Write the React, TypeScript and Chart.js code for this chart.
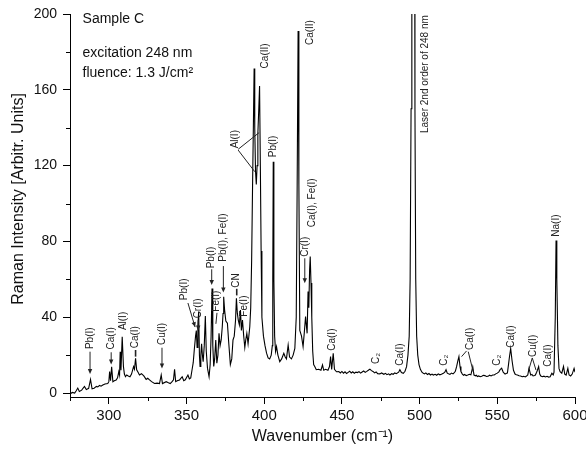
import React, { useEffect, useRef } from 'react';
import { Chart, registerables } from 'chart.js';

Chart.register(...registerables);

// ---- Spectrum data (wavenumber axis label as in the figure, intensity in arbitrary units)
const wavenumbers = [
  275, 276.5, 278, 279, 280, 281, 282.5, 284.3, 285.5, 287, 288.2, 289.2, 290.5, 292, 292.9, 294, 295, 296.1, 297.5, 299.3,
  300, 300.5, 301.1, 301.8, 302.6, 303.5, 304.7, 305.6, 306.4, 306.9, 307.3, 307.8, 308.6, 309.4, 310, 310.7, 311.5, 312.5, 313.6, 314.6,
  315.9, 316.5, 317.2, 317.9, 318.8, 319.7, 321, 322.5, 324, 325, 326.2, 327.5, 329.4, 331, 332.6, 333.7, 334.5, 336.9, 338, 339.5,
  340.7, 341.6, 342.3, 343, 344, 345.5, 347.2, 348.2, 349.2, 350.9, 351.8, 352.7, 353.5, 354.3, 355, 355.8, 356.3, 356.8, 357.3, 357.8,
  358.3, 358.7, 359.2, 359.7, 360.2, 360.7, 361.4, 362.1, 362.7, 363.5, 364.5, 365.2, 365.8, 366.4, 366.9, 367.5, 368.1, 368.8, 369.5, 370.2,
  370.9, 371.6, 372.3, 373, 373.5, 373.9, 374.5, 375.3, 376.3, 377.2, 378.2, 379.1, 379.9, 380.7, 381.5, 382.1, 382.7, 383.3, 384, 384.7,
  385.3, 386, 386.8, 387.5, 388.1, 388.8, 389.6, 390.7, 391.3, 391.9, 392.5, 393, 393.5, 393.9, 394.4, 394.9, 395.4, 395.9, 396.5, 397,
  397.5, 398, 398.5, 399.5, 400.5, 401.5, 402.5, 403.5, 404.5, 405.2, 405.5, 405.8, 406.2, 406.7, 407.3, 407.9, 408.8, 410, 411.2, 412.6,
  413.5, 414.3, 415.4, 416.3, 417.5, 418.6, 419.7, 420.6, 421.2, 421.8, 422.3, 422.9, 424, 425, 425.8, 426.6, 427.6, 428.2, 428.7, 429.2,
  429.6, 430.1, 430.6, 431.2, 431.8, 432.6, 433.5, 435, 436.5, 437.5, 438.3, 439.5, 441, 442, 442.7, 443.4, 444.4, 445.2, 446.5, 448,
  449, 450, 451, 452, 453, 454, 455, 456, 457, 458, 459, 460, 461, 462, 463, 464, 465, 466, 467, 468,
  469, 470, 471, 472, 473, 474.4, 475.5, 477, 478, 479, 480, 480.9, 482, 483, 484, 485, 486.5, 487.3,
  488.3, 489.5, 490.6, 491.6, 492.5, 493.3, 493.9, 494.5, 495, 495.4, 496.5, 497, 497.5, 498.1, 498.8, 499.6, 500.5, 501.5, 502.4, 503.2,
  504, 505, 506, 507, 508, 508.8, 510, 511, 512, 513, 514, 515.3, 516.2, 517, 517.8, 518.6, 519.5, 520.5, 521.5, 522.3,
  523, 523.8, 524.6, 525.3, 526, 526.6, 527.5, 528.3, 529, 530, 531, 532, 533, 534.2, 535, 536, 536.5, 537.2, 538, 539,
  540, 541, 542, 543, 544, 545, 546, 547, 548, 549, 550, 551, 551.8, 552.8, 553.8, 555, 556, 556.5, 557.2, 557.8,
  558.6, 559.5, 560.4, 561.4, 562.2, 563, 564, 565, 566, 567, 568, 568.6, 569.6, 570.4, 571.5, 572.3, 573, 574, 574.5, 575.3,
  575.8, 576.6, 577.3, 578, 579, 580, 581, 582, 583, 584, 585.1, 586, 586.5, 587.3,
  587.8, 588.3, 589, 589.7, 590.4, 591.5, 592.6, 593.4, 594.3, 595.4, 596.2, 597.2, 598.2, 599.4, 600,
];

const intensities = [
  -0.5, 0.3, 0, 1.2, 2.6, 0.8, 1.5, 3.5, 1.8, 2.5, 7.2, 2.2, 2.5, 3.5, 3.2, 4, 3.6, 4.2, 4.8, 5,
  6, 11.3, 6.5, 13.9, 6, 6.5, 6.9, 8, 11.3, 9.5, 21.8, 12, 29.7, 13.9, 10, 8.6, 9.5, 9, 8.6, 10,
  13.9, 12.5, 18.3, 12.3, 11, 9.5, 10.2, 9, 7.2, 7.8, 6.9, 6, 5, 5.2, 5, 9.5, 5, 6, 5.5, 5,
  6, 7, 12.5, 6, 6.5, 6.9, 8.6, 6.5, 7, 9.5, 7.5, 8, 12, 16, 23, 30, 33, 24, 35, 43,
  20, 14, 20, 26, 20, 16.5, 25, 40.6, 22, 13, 8.6, 15, 30, 55.2, 25, 14, 18, 28, 15.7, 20,
  31.5, 25, 28, 35, 42, 50.8, 43.8, 38, 36.8, 26, 15, 18, 28, 30, 38, 50, 42, 38.5, 36, 43.8,
  33, 38.5, 30, 24, 28, 31.5, 26, 35, 45, 70, 110, 140, 171.3, 140, 117, 110, 120, 137, 150, 162,
  120, 75, 40, 30, 25, 21, 18.5, 18, 20, 25, 60, 122, 60, 30, 22, 24.5, 20, 16.5, 18, 21,
  19, 18, 25.3, 19, 18, 20, 23.5, 40, 110, 191, 110, 33, 30, 24.5, 32, 40.3, 31.5, 53.5, 45, 65,
  72, 58, 40, 22, 15, 13.9, 12.3, 12.5, 12, 14.8, 12, 12.5, 12, 14, 19.2, 12.5, 21, 12.5, 11.2, 11.3,
  10.6, 11.4, 10.5, 11.2, 10.3, 10.9, 11.5, 10.6, 11.2, 10.4, 11, 10.8, 11.3, 10.5, 11.1, 11.6, 10.9, 11.4, 12, 12.6,
  11.8, 11.4, 10.6, 11.1, 10.2, 10.1, 10.6, 9.9, 10.4, 9.7, 10.1, 9.5, 10.2, 9.9, 10.6, 10.2, 11, 12.3,
  10.8, 10.4, 11.5, 13.9, 20, 30, 60, 150, 400, 420, 420, 150, 60, 30, 20, 15, 12.5, 11, 10.4, 10.1,
  10.6, 9.8, 10.3, 9.5, 10, 9.5, 9.9, 9.4, 10.1, 9.6, 9.9, 10.4, 11, 12.3, 10.5, 10.1, 9.8, 10.5, 10.1, 10.8,
  11.5, 13.9, 17, 19.2, 14, 11.3, 10, 9.4, 9.8, 9.2, 9.5, 9.9, 9.6, 13.9, 9.5, 9.1, 9.4, 8.7, 9, 8.6,
  8.8, 9.3, 9.2, 8.7, 8.8, 9.4, 9, 9.5, 9.5, 10.1, 10.5, 11.2, 12.3, 13.1, 11, 10, 10.4, 10.5, 15, 19,
  23.5, 17, 12, 10, 9.6, 9.5, 9.1, 9, 8.6, 8.8, 8.5, 8.8, 9.5, 13, 9.5, 9.8, 9, 9.3, 9.5, 11,
  12, 13.9, 10, 9, 8.6, 8.9, 8.5, 8.8, 8.4, 8.6, 10.4, 9.6, 11, 40,
  80.5, 60, 25, 13, 11.3, 10.5, 14, 10, 9.5, 13, 9.5, 9, 10, 13, 11,
];

const xTicks = [300, 350, 400, 450, 500, 550, 600];
const xMinorTicks = [275, 325, 375, 425, 475, 525, 575];
const yTicks = [0, 40, 80, 120, 160, 200];
const yMinorTicks = [20, 60, 100, 140, 180];

const xTitle = 'Wavenumber (cm⁻¹)';
const yTitle = 'Raman Intensity [Arbitr. Units]';
const yTitleCenter = 102.4;

const infoLines = ['Sample C', 'excitation 248 nm', 'fluence: 1.3 J/cm²'];
const infoAnchorX = 283.1;
const infoAnchorY = [195.3, 177.3, 166.8];

// peak assignment labels: wavenumber, intensity where the (vertical) text starts
const peakLabels = [
  { text: 'Pb(I)', x: 287.9, y: 23.2 },
  { text: 'Ca(I)', x: 301.5, y: 23.0 },
  { text: 'Al(I)', x: 309.0, y: 33.2 },
  { text: 'Ca(I)', x: 317.2, y: 23.6 },
  { text: 'Cu(I)', x: 334.3, y: 25.3 },
  { text: 'Pb(I)', x: 348.6, y: 49.0 },
  { text: 'Cr(I)', x: 357.3, y: 39.4 },
  { text: 'Pb(I)', x: 366.2, y: 65.8 },
  { text: 'Fe(I)', x: 369.4, y: 42.9 },
  { text: 'Pb(I), Fe(I)', x: 373.9, y: 69.3 },
  { text: 'CN', x: 382.3, y: 55.5 },
  { text: 'Fe(I)', x: 387.4, y: 40.3 },
  { text: 'Al(I)', x: 381.3, y: 129.1 },
  { text: 'Ca(II)', x: 400.4, y: 171.3 },
  { text: 'Pb(I)', x: 405.6, y: 124.4 },
  { text: 'Ca(II)', x: 429.3, y: 183.6 },
  { text: 'Laser 2nd order of 248 nm', x: 503.9, y: 137.2 },
  { text: 'Ca(I), Fe(I)', x: 430.8, y: 87.5 },
  { text: 'Cr(I)', x: 426.1, y: 71.9 },
  { text: 'Ca(I)', x: 444.0, y: 22.3 },
  { text: 'C₂', x: 471.8, y: 15.3 },
  { text: 'Ca(I)', x: 487.3, y: 14.4 },
  { text: 'C₂', x: 515.7, y: 14.4 },
  { text: 'Ca(I)', x: 532.4, y: 22.7 },
  { text: 'C₂', x: 549.8, y: 14.4 },
  { text: 'Ca(I)', x: 558.8, y: 23.9 },
  { text: 'Cu(I)', x: 573.0, y: 19.0 },
  { text: 'Ca(I)', x: 583.0, y: 13.9 },
  { text: 'Na(I)', x: 587.8, y: 82.5 },
];

// vertical arrows: x, from y1 down to y2 (head at y2)
const arrows = [
  { x: 287.9, y1: 21.8, y2: 10 },
  { x: 301.5, y1: 21.5, y2: 15 },
  { x: 334.2, y1: 23.9, y2: 13 },
  { x: 357.5, y1: 38.5, y2: 33 },
  { x: 366.2, y1: 65.3, y2: 57 },
  { x: 373.7, y1: 67, y2: 53 },
  { x: 426.1, y1: 71.1, y2: 57.9 },
];

// short marker bars
const bars = [
  { x: 317.2, y1: 22.7, y2: 19.2 },
  { x: 382.3, y1: 55, y2: 51.5 },
];

// leader lines (polylines), optional arrowhead at the end
const leaders = [
  { pts: [[350.9, 47.5], [355.5, 34.8]], head: true },
  { pts: [[369.6, 42.3], [368.9, 36.5]], head: false },
  { pts: [[383.2, 128.6], [396.7, 137.4]], head: false },
  { pts: [[383.2, 128.2], [393.9, 116.8]], head: false },
  { pts: [[527.0, 19.2], [530.2, 22.2]], head: false },
  { pts: [[531.3, 21.8], [534.5, 11.2]], head: false },
  { pts: [[570.2, 12.1], [572.5, 18.5], [574.9, 12.1]], head: false },
];

const FONT = '"Liberation Sans", Arial, Helvetica, sans-serif';

const annotationPlugin = {
  id: 'spectrumAnnotations',
  afterDraw(chart: any) {
    const { ctx, chartArea } = chart;
    const xs = chart.scales.x;
    const ys = chart.scales.y;
    const px = (v: number) => xs.getPixelForValue(v);
    const py = (v: number) => ys.getPixelForValue(v);
    ctx.save();
    ctx.strokeStyle = '#000';
    ctx.lineWidth = 1;
    // minor ticks
    xMinorTicks.forEach((v) => {
      const X = Math.round(px(v)) + 0.5;
      ctx.beginPath();
      ctx.moveTo(X, chartArea.bottom);
      ctx.lineTo(X, chartArea.bottom + 4);
      ctx.stroke();
    });
    yMinorTicks.forEach((v) => {
      const Y = Math.round(py(v)) + 0.5;
      ctx.beginPath();
      ctx.moveTo(chartArea.left, Y);
      ctx.lineTo(chartArea.left - 4, Y);
      ctx.stroke();
    });

    // y axis title
    ctx.fillStyle = '#111';
    ctx.font = `16px ${FONT}`;
    ctx.save();
    ctx.translate(chartArea.left - 51, py(yTitleCenter));
    ctx.rotate(-Math.PI / 2);
    ctx.textAlign = 'center';
    ctx.textBaseline = 'middle';
    ctx.fillText(yTitle, 0, 0);
    ctx.restore();

    // info text
    ctx.font = `14px ${FONT}`;
    ctx.textAlign = 'left';
    ctx.textBaseline = 'alphabetic';
    infoLines.forEach((t, i) => {
      ctx.fillText(t, px(infoAnchorX), py(infoAnchorY[i]));
    });

    // peak labels
    ctx.fillStyle = '#222';
    ctx.font = `10px ${FONT}`;
    peakLabels.forEach((l) => {
      ctx.save();
      ctx.translate(px(l.x), py(l.y));
      ctx.rotate(-Math.PI / 2);
      ctx.textAlign = 'left';
      ctx.textBaseline = 'middle';
      ctx.fillText(l.text, 0, 0);
      ctx.restore();
    });

    ctx.strokeStyle = '#222';
    ctx.fillStyle = '#222';
    const head = (x1: number, y1: number, x2: number, y2: number) => {
      const a = Math.atan2(y2 - y1, x2 - x1);
      const L = 5, W = 2.2;
      ctx.beginPath();
      ctx.moveTo(x2, y2);
      ctx.lineTo(x2 - L * Math.cos(a) + W * Math.sin(a), y2 - L * Math.sin(a) - W * Math.cos(a));
      ctx.lineTo(x2 - L * Math.cos(a) - W * Math.sin(a), y2 - L * Math.sin(a) + W * Math.cos(a));
      ctx.closePath();
      ctx.fill();
    };
    arrows.forEach((a) => {
      const X = px(a.x);
      ctx.beginPath();
      ctx.moveTo(X, py(a.y1));
      ctx.lineTo(X, py(a.y2) - 3);
      ctx.stroke();
      head(X, py(a.y1), X, py(a.y2));
    });
    ctx.lineWidth = 1.6;
    bars.forEach((b) => {
      const X = px(b.x);
      ctx.beginPath();
      ctx.moveTo(X, py(b.y1));
      ctx.lineTo(X, py(b.y2));
      ctx.stroke();
    });
    ctx.lineWidth = 1;
    leaders.forEach((l) => {
      ctx.beginPath();
      l.pts.forEach((p, i) => {
        const X = px(p[0]);
        const Y = py(p[1]);
        if (i === 0) ctx.moveTo(X, Y);
        else ctx.lineTo(X, Y);
      });
      ctx.stroke();
      if (l.head) {
        const n = l.pts.length;
        head(px(l.pts[n - 2][0]), py(l.pts[n - 2][1]), px(l.pts[n - 1][0]), py(l.pts[n - 1][1]));
      }
    });
    ctx.restore();
  },
};

export default function App() {
  const canvasRef = useRef<HTMLCanvasElement | null>(null);

  useEffect(() => {
    if (!canvasRef.current) return;
    const data = wavenumbers.map((w, i) => ({ x: w, y: intensities[i] }));
    const chart = new Chart(canvasRef.current, {
      type: 'line',
      data: {
        datasets: [
          {
            data,
            borderColor: '#000',
            borderWidth: 1.1,
            pointRadius: 0,
            tension: 0,
            fill: false,
          },
        ],
      },
      options: {
        responsive: false,
        animation: false,
        maintainAspectRatio: false,
        layout: { padding: { top: 14, right: 11, bottom: 0, left: 0 } },
        plugins: {
          legend: { display: false },
          tooltip: { enabled: false },
        },
        scales: {
          x: {
            type: 'linear',
            min: 275,
            max: 600,
            afterBuildTicks: (scale: any) => {
              scale.ticks = xTicks.map((v) => ({ value: v }));
            },
            afterFit: (scale: any) => {
              scale.height = 52;
              scale.paddingLeft = 0;
              scale.paddingRight = 0;
            },
            grid: { display: true, drawOnChartArea: false, drawTicks: true, tickLength: 7, color: '#000' },
            border: { display: true, color: '#000', width: 1 },
            ticks: {
              color: '#111',
              font: { family: FONT, size: 15 },
              padding: 3,
              maxRotation: 0,
              autoSkip: false,
              callback: (v: any) => String(v),
            },
            title: {
              display: true,
              text: xTitle,
              color: '#111',
              font: { family: FONT, size: 16 },
              padding: { top: 0, bottom: 3 },
            },
          },
          y: {
            type: 'linear',
            min: -2.1,
            max: 200,
            afterBuildTicks: (scale: any) => {
              scale.ticks = yTicks.map((v) => ({ value: v }));
            },
            afterFit: (scale: any) => {
              scale.width = 70;
              scale.paddingTop = 0;
              scale.paddingBottom = 0;
            },
            grid: { display: true, drawOnChartArea: false, drawTicks: true, tickLength: 7, color: '#000' },
            border: { display: true, color: '#000', width: 1 },
            ticks: {
              color: '#111',
              font: { family: FONT, size: 14 },
              padding: 6,
              autoSkip: false,
              callback: (v: any) => String(v),
            },
            title: { display: false },
          },
        },
      },
      plugins: [annotationPlugin],
    });
    return () => chart.destroy();
  }, []);

  return (
    <div style={{ position: 'fixed', left: 0, top: 0, width: 586, height: 449, background: '#fff' }}>
      <canvas ref={canvasRef} width={586} height={449} style={{ display: 'block' }} />
    </div>
  );
}
